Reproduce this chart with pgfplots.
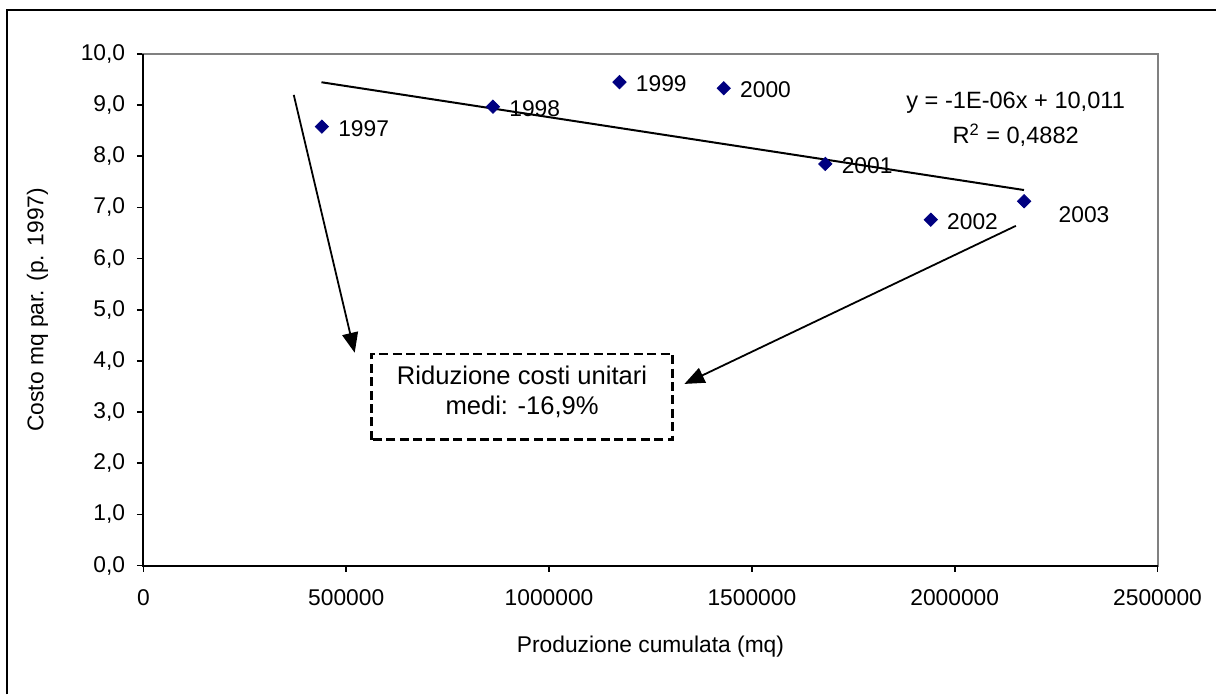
\documentclass[border=0pt]{standalone}
\usepackage{pgfplots}
\pgfplotsset{compat=1.18}
\usepackage{fontspec}
\setmainfont{Liberation Sans}
\usetikzlibrary{arrows.meta}
\definecolor{navy}{RGB}{0,0,128}
\begin{document}
\begin{tikzpicture}
\path (-71.75pt,-64.5pt) rectangle (536.75pt,283pt);
\draw[black, line width=1pt] (-68pt,-64.5pt) -- (-68pt,278pt) -- (536.75pt,278pt);
\begin{axis}[
  scale only axis,
  width=507.5pt, height=256pt,
  xmin=0, xmax=2500000, ymin=0, ymax=10,
  xtick={0,500000,1000000,1500000,2000000,2500000},
  ytick={0,1,...,10},
  scaled x ticks=false,
  tick align=outside, major tick length=3.2pt,
  xtick pos=bottom, ytick pos=left,
  tick style={black, line width=0.8pt},
  axis line style={draw=gray, line width=1pt},
  clip=false,
  /pgf/number format/assume math mode=true,
  font=\fontsize{11.4}{13.5}\selectfont,
  ticklabel style={font=\fontsize{11.4}{13.5}\selectfont},
  xticklabel style={/pgf/number format/.cd, fixed, precision=0, 1000 sep={}},
  yticklabel style={/pgf/number format/.cd, fixed, fixed zerofill, precision=1, use comma},
  xticklabel shift=5.2pt,
  yticklabel shift=2.4pt,
  xlabel={Produzione cumulata (mq)},
  ylabel={Costo mq par. (p. 1997)},
  every axis x label/.style={at={(axis description cs:0.5,-0.1699)}, anchor=base, font=\fontsize{11.4}{13.5}\selectfont},
  every axis y label/.style={at={(axis description cs:-0.1045,0.5)}, rotate=90, anchor=center, font=\fontsize{11.4}{13.5}\selectfont},
]
% trend line
\addplot[black, line width=1pt, no marks] coordinates {(438900,9.447) (2170700,7.34)};
% data points
\addplot[only marks, mark=square*, mark size=2.35pt, mark options={rotate=45, fill=navy, draw=navy},
  nodes near coords, point meta=explicit symbolic,
  every node near coord/.append style={anchor=west, xshift=4.7pt, yshift=-0.8pt, font=\fontsize{11.4}{13.5}\selectfont, text=black}]
  coordinates {
  (440000,8.58) [1997]
  (861600,8.97) [1998]
  (1173600,9.45) [1999]
  (1430600,9.33) [2000]
  (1681000,7.85) [2001]
  (1941000,6.76) [2002]
  };
\addplot[only marks, mark=square*, mark size=2.35pt, mark options={rotate=45, fill=navy, draw=navy},
  nodes near coords, point meta=explicit symbolic,
  every node near coord/.append style={anchor=west, xshift=13.8pt, yshift=-6.6pt, font=\fontsize{11.4}{13.5}\selectfont, text=black}]
  coordinates {
  (2171000,7.12) [2003]
  };
% black left and bottom axis lines
\draw[black, line width=1pt] (rel axis cs:0,1) -- (rel axis cs:0,0) -- (rel axis cs:1,0);
% equation
\node[anchor=base, font=\fontsize{11.8}{14}\selectfont, inner sep=0pt] at (axis cs:2150200,8.93) {y = -1E-06x + 10,011};
\node[anchor=base, font=\fontsize{11.8}{14}\selectfont, inner sep=0pt] at (axis cs:2150200,8.24) {R\textsuperscript{2} = 0,4882};
% arrows
\draw[black, line width=0.9pt, -{Triangle[length=10pt,width=8pt]}] (axis cs:370700,9.20) -- (axis cs:520900,4.16);
\draw[black, line width=0.9pt, -{Triangle[length=10pt,width=8pt]}] (axis cs:2150700,6.64) -- (axis cs:1333700,3.55);
% dashed box
\draw[black, line width=1.2pt, dash pattern=on 4.5pt off 2.2pt] (axis cs:562800,2.46) rectangle (axis cs:1304200,4.14);
\node[anchor=base, font=\fontsize{12.8}{15}\selectfont, inner sep=0pt] at (axis cs:933500,3.53) {Riduzione costi unitari};
\node[anchor=base, font=\fontsize{12.8}{15}\selectfont, inner sep=0pt] at (axis cs:933500,2.95) {medi: -16,9\%};
\end{axis}
\end{tikzpicture}
\end{document}
